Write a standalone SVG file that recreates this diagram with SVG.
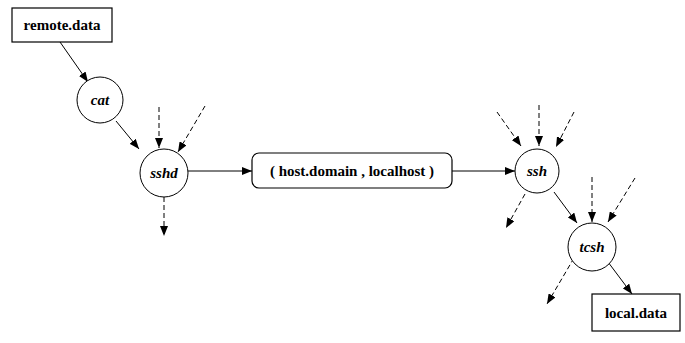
<svg xmlns="http://www.w3.org/2000/svg" width="685" height="343" viewBox="0 0 685 343">
<style>
.box{fill:#fff;stroke:#000;stroke-width:1.2}
.node{fill:#fff;stroke:#000;stroke-width:1}
text{font-family:'Times New Roman','Liberation Serif','DejaVu Serif',serif;font-weight:bold;font-size:15px;text-anchor:middle;fill:#000}
.it{font-style:italic}
.e{stroke:#000;stroke-width:1;fill:none;marker-end:url(#ah)}
.d{stroke-dasharray:5,3}
</style>
<defs>
<marker id="ah" viewBox="0 0 10 8" refX="10" refY="4" markerWidth="10" markerHeight="8" markerUnits="userSpaceOnUse" orient="auto">
<path d="M0,0 L10,4 L0,8 Z" fill="#000"/>
</marker>
</defs>
<rect width="685" height="343" fill="#fff"/>
<g id="connectors">
<line class="e" x1="60" y1="42" x2="88" y2="82"/>
<line class="e" x1="116" y1="121" x2="139" y2="149"/>
<line class="e d" x1="159" y1="107" x2="159" y2="148"/>
<line class="e d" x1="205" y1="106" x2="178" y2="152"/>
<line class="e d" x1="164" y1="197" x2="164" y2="236"/>
<line class="e" x1="188" y1="171" x2="252" y2="171"/>
<line class="e" x1="452" y1="171" x2="515" y2="171"/>
<line class="e d" x1="497" y1="112" x2="521" y2="146"/>
<line class="e d" x1="539" y1="105" x2="539" y2="146"/>
<line class="e d" x1="574" y1="112" x2="556" y2="147"/>
<line class="e d" x1="525" y1="194" x2="506" y2="228"/>
<line class="e" x1="554" y1="192" x2="577" y2="223"/>
<line class="e d" x1="592" y1="177" x2="592" y2="222"/>
<line class="e d" x1="635" y1="178" x2="608" y2="222"/>
<line class="e d" x1="574" y1="258" x2="547" y2="304"/>
<line class="e" x1="605" y1="258" x2="632" y2="294"/>
</g>
<g id="remote_data">
<rect class="box" x="12" y="8" width="100" height="34"/>
<text x="62" y="30">remote.data</text>
</g>
<g id="cat">
<circle class="node" cx="100" cy="100" r="23"/>
<text class="it" x="100" y="105">cat</text>
</g>
<g id="sshd">
<circle class="node" cx="164" cy="173" r="24"/>
<text class="it" x="164" y="178">sshd</text>
</g>
<g id="connection">
<rect class="box" x="252" y="153" width="200" height="35" rx="7"/>
<text x="352" y="176">( host.domain , localhost )</text>
</g>
<g id="ssh">
<circle class="node" cx="537" cy="171" r="22"/>
<text class="it" x="537" y="176">ssh</text>
</g>
<g id="tcsh">
<circle class="node" cx="592" cy="247" r="24"/>
<text class="it" x="592" y="252">tcsh</text>
</g>
<g id="local_data">
<rect class="box" x="592" y="294" width="88" height="37"/>
<text x="636" y="318">local.data</text>
</g>
</svg>
